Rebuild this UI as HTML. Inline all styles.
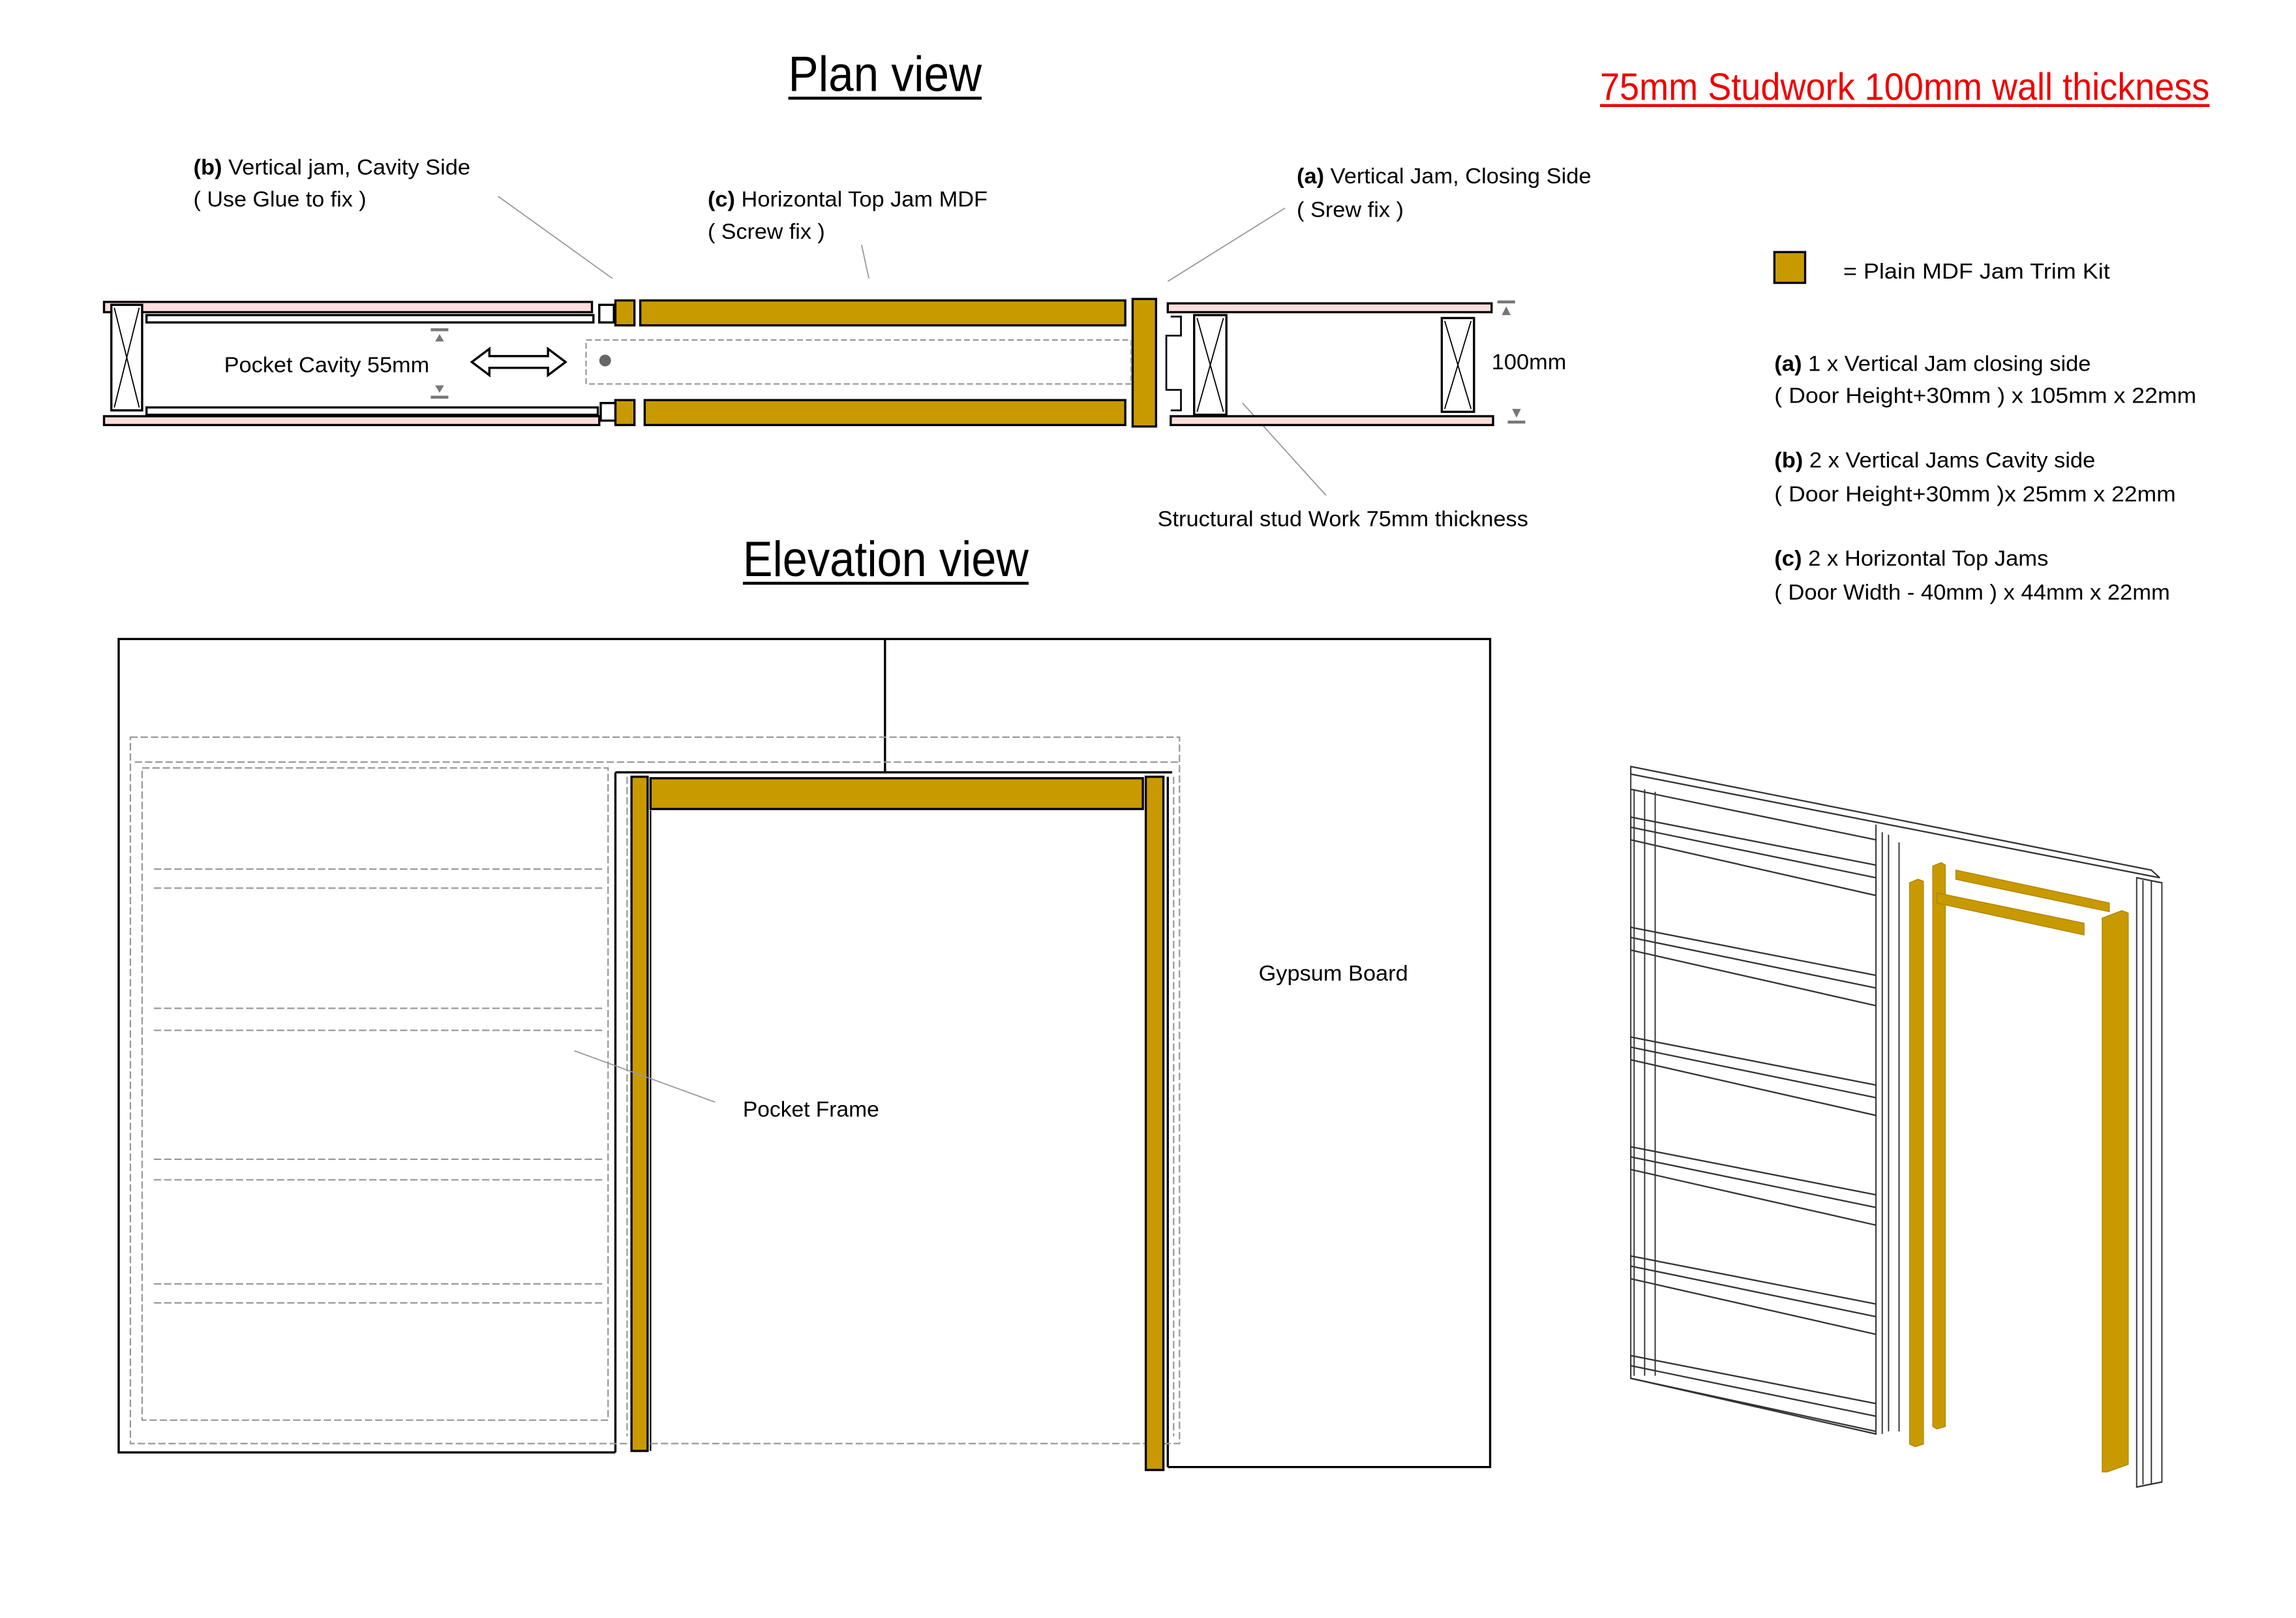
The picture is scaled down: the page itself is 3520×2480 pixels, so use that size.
<!DOCTYPE html>
<html><head><meta charset="utf-8"><style>
html,body{margin:0;padding:0;background:#fff}
svg{display:block}
text{font-family:"Liberation Sans",sans-serif;fill:#000}
</style></head><body>
<svg width="3520" height="2480" viewBox="0 0 1567 1104" preserveAspectRatio="none" xmlns="http://www.w3.org/2000/svg">
<rect width="1567" height="1104" fill="#fff"/>
<!-- Titles -->
<text x="538" y="62" font-size="34" textLength="132" lengthAdjust="spacingAndGlyphs">Plan view</text>
<line x1="538" y1="67" x2="670" y2="67" stroke="#000" stroke-width="2"/>
<text x="507" y="393" font-size="34" textLength="195" lengthAdjust="spacingAndGlyphs">Elevation view</text>
<line x1="507" y1="398" x2="702" y2="398" stroke="#000" stroke-width="2"/>
<text x="1092" y="68" font-size="26" style="fill:#e00" textLength="416" lengthAdjust="spacingAndGlyphs">75mm Studwork 100mm wall thickness</text>
<line x1="1092" y1="72" x2="1508" y2="72" stroke="#e00" stroke-width="2"/>

<!-- Plan labels -->
<g font-size="15">
<text x="132" y="119" textLength="189" lengthAdjust="spacingAndGlyphs"><tspan font-weight="bold">(b)</tspan> Vertical jam, Cavity Side</text>
<text x="132" y="141" textLength="118" lengthAdjust="spacingAndGlyphs">( Use Glue to fix )</text>
<text x="483" y="141" textLength="191" lengthAdjust="spacingAndGlyphs"><tspan font-weight="bold">(c)</tspan> Horizontal Top Jam MDF</text>
<text x="483" y="163" textLength="80" lengthAdjust="spacingAndGlyphs">( Screw fix )</text>
<text x="885" y="125" textLength="201" lengthAdjust="spacingAndGlyphs"><tspan font-weight="bold">(a)</tspan> Vertical Jam, Closing Side</text>
<text x="885" y="148" textLength="73" lengthAdjust="spacingAndGlyphs">( Srew fix )</text>
<text x="153" y="254" textLength="140" lengthAdjust="spacingAndGlyphs">Pocket Cavity 55mm</text>
<text x="1018" y="252" textLength="51" lengthAdjust="spacingAndGlyphs">100mm</text>
<text x="790" y="359" textLength="253" lengthAdjust="spacingAndGlyphs">Structural stud Work 75mm thickness</text>
</g>
<g stroke="#999" stroke-width="0.8" fill="none">
<line x1="340" y1="134" x2="418" y2="190"/>
<line x1="588" y1="167" x2="593" y2="190"/>
<line x1="877" y1="142" x2="797" y2="192"/>
<line x1="905" y1="338" x2="848" y2="275"/>
</g>

<!-- Plan drawing -->
<g stroke="#000" stroke-width="1.5">
<rect x="71" y="206" width="333" height="7" fill="#fdd"/>
<rect x="71" y="284" width="338" height="6" fill="#fdd"/>
<rect x="100" y="215" width="305" height="5" fill="#fff"/>
<rect x="100" y="278" width="308" height="5" fill="#fff"/>
<rect x="76" y="208" width="21" height="72" fill="#fff"/>
<line x1="78" y1="210" x2="95" y2="278" stroke-width="0.8"/><line x1="95" y1="210" x2="78" y2="278" stroke-width="0.8"/>
<rect x="797" y="207" width="221" height="6" fill="#fdd"/>
<rect x="799" y="284" width="220" height="6" fill="#fdd"/>
<rect x="815" y="215" width="22" height="68" fill="#fff"/>
<line x1="817" y1="217" x2="835" y2="281" stroke-width="0.8"/><line x1="835" y1="217" x2="817" y2="281" stroke-width="0.8"/>
<rect x="984" y="217" width="22" height="64" fill="#fff"/>
<line x1="986" y1="219" x2="1004" y2="279" stroke-width="0.8"/><line x1="1004" y1="219" x2="986" y2="279" stroke-width="0.8"/>
<rect x="437" y="205" width="331" height="17" fill="#c99a00"/>
<rect x="440" y="273" width="328" height="17" fill="#c99a00"/>
<rect x="420" y="205" width="13" height="17" fill="#c99a00"/>
<rect x="420" y="273" width="13" height="17" fill="#c99a00"/>
<rect x="409" y="208" width="10" height="12" fill="#fff"/>
<rect x="410" y="275" width="10" height="12" fill="#fff"/>
<rect x="773" y="204" width="16" height="87" fill="#c99a00"/>
<polyline points="799,216 806,216 806,229 796,229 796,266 806,266 806,280 799,280" fill="none" stroke-width="1.2"/>
</g>
<rect x="400" y="232" width="372" height="30" fill="none" stroke="#999" stroke-dasharray="4,2" stroke-width="1"/>
<circle cx="413" cy="246" r="4" fill="#666"/>
<path d="M322,247 L334,238 L334,243 L374,243 L374,238 L386,247 L374,256 L374,251 L334,251 L334,256 Z" fill="#fff" stroke="#000" stroke-width="1.5"/>
<g fill="#777">
<rect x="294" y="224" width="12" height="2"/><path d="M297,233 L303,233 L300,228 Z"/>
<rect x="294" y="270" width="12" height="2"/><path d="M297,263 L303,263 L300,268 Z"/>
<rect x="1022" y="205" width="12" height="2"/><path d="M1025,215 L1031,215 L1028,209 Z"/>
<rect x="1029" y="287" width="12" height="2"/><path d="M1032,279 L1038,279 L1035,285 Z"/>
</g>

<!-- Legend -->
<rect x="1211" y="172" width="21" height="21" fill="#c99a00" stroke="#000" stroke-width="1.5"/>
<g font-size="15">
<text x="1258" y="190" textLength="182" lengthAdjust="spacingAndGlyphs">=  Plain MDF Jam Trim Kit</text>
<text x="1211" y="253" textLength="216" lengthAdjust="spacingAndGlyphs"><tspan font-weight="bold">(a)</tspan> 1 x Vertical Jam closing side</text>
<text x="1211" y="275" textLength="288" lengthAdjust="spacingAndGlyphs">( Door Height+30mm ) x 105mm x 22mm</text>
<text x="1211" y="319" textLength="219" lengthAdjust="spacingAndGlyphs"><tspan font-weight="bold">(b)</tspan> 2 x Vertical Jams Cavity side</text>
<text x="1211" y="342" textLength="274" lengthAdjust="spacingAndGlyphs">( Door Height+30mm )x 25mm x 22mm</text>
<text x="1211" y="386" textLength="187" lengthAdjust="spacingAndGlyphs"><tspan font-weight="bold">(c)</tspan> 2 x Horizontal Top Jams</text>
<text x="1211" y="409" textLength="270" lengthAdjust="spacingAndGlyphs">( Door Width - 40mm ) x 44mm x 22mm</text>
</g>

<!-- Elevation -->
<g stroke="#000" stroke-width="1.5" fill="none">
<polyline points="420,991 81,991 81,436 1017,436 1017,1001 797,1001"/>
<line x1="604" y1="436" x2="604" y2="527"/>
<line x1="797" y1="530" x2="797" y2="1001"/>
<line x1="420" y1="527" x2="420" y2="991"/>
<line x1="420" y1="527" x2="800" y2="527"/>
<line x1="444" y1="553" x2="444" y2="990" stroke-width="1"/>
</g>
<g stroke="#999" stroke-width="1" fill="none" stroke-dasharray="5,2">
<rect x="89" y="503" width="716" height="482"/>
<rect x="97" y="524" width="318" height="445"/>
<line x1="92" y1="520" x2="805" y2="520"/>
<line x1="428" y1="530" x2="428" y2="980"/>
<line x1="801" y1="530" x2="801" y2="980"/>
<line x1="105" y1="593" x2="413" y2="593"/><line x1="105" y1="606" x2="413" y2="606"/>
<line x1="105" y1="688" x2="413" y2="688"/><line x1="105" y1="703" x2="413" y2="703"/>
<line x1="105" y1="791" x2="413" y2="791"/><line x1="105" y1="805" x2="413" y2="805"/>
<line x1="105" y1="876" x2="413" y2="876"/><line x1="105" y1="889" x2="413" y2="889"/>
</g>
<g stroke="#000" stroke-width="1.5" fill="#c99a00">
<rect x="444" y="531" width="336" height="21"/>
<rect x="431" y="530" width="11" height="460"/>
<rect x="782" y="530" width="12" height="473"/>
</g>
<line x1="488" y1="752" x2="392" y2="717" stroke="#999" stroke-width="0.8"/>
<text x="507" y="762" font-size="15" textLength="93" lengthAdjust="spacingAndGlyphs">Pocket Frame</text>
<text x="859" y="669" font-size="15" textLength="102" lengthAdjust="spacingAndGlyphs">Gypsum Board</text>

<!-- Isometric -->
<g transform="translate(1095.2,507.5) scale(0.287,0.345)">
<g stroke="#333" stroke-width="3" fill="none">
<polygon points="62,45 1300,250 1320,265 62,60"/>
<line x1="62" y1="45" x2="62" y2="1255"/>
<line x1="70" y1="90" x2="70" y2="1250"/>
<line x1="95" y1="90" x2="95" y2="1250"/>
<line x1="120" y1="95" x2="120" y2="1250"/>
<line x1="645" y1="160" x2="645" y2="1360"/>
<line x1="660" y1="175" x2="660" y2="1365"/>
<line x1="675" y1="180" x2="675" y2="1360"/>
<line x1="700" y1="195" x2="700" y2="1360"/>
<line x1="62" y1="90" x2="645" y2="190"/>
<line x1="62" y1="1255" x2="645" y2="1360"/>
<g id="rail">
<polygon points="62,145 645,240 645,300 62,190"/>
<line x1="62" y1="165" x2="645" y2="265"/>
</g>
<use href="#rail" transform="translate(0,218)"/>
<use href="#rail" transform="translate(0,435)"/>
<use href="#rail" transform="translate(0,652)"/>
<use href="#rail" transform="translate(0,868)"/>
<use href="#rail" transform="translate(0,1065)"/>
<polygon points="1265,265 1325,275 1325,1460 1265,1470"/>
<line x1="1280" y1="270" x2="1280" y2="1465"/>
<line x1="1300" y1="270" x2="1300" y2="1465"/>
</g>
<g fill="#c99a00" stroke="#b08500" stroke-width="2">
<polygon points="725,275 745,268 758,272 758,1385 738,1390 725,1385"/>
<polygon points="780,242 800,235 810,240 810,1350 790,1355 780,1350"/>
<polygon points="835,250 1200,315 1200,332 835,268"/>
<polygon points="790,295 1140,355 1140,378 790,315"/>
<polygon points="1183,345 1230,330 1245,335 1245,1425 1195,1440 1183,1440"/>
</g>
</g>
</svg>
</body></html>
